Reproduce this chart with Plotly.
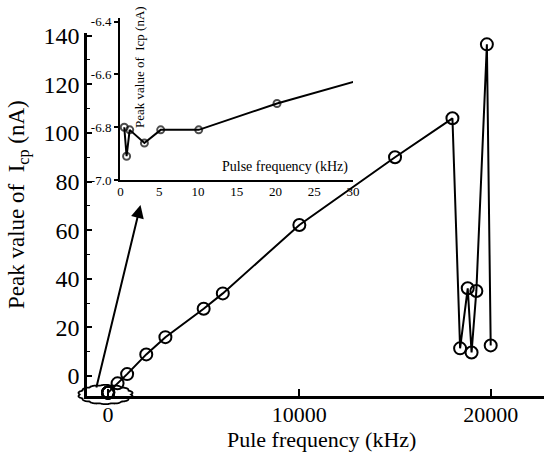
import numpy as np
import plotly.graph_objects as go

# ---- data ----
low_freq = [0.5, 0.8, 1.2, 3.1, 5.2, 10.1, 20.2, 30.4]          # kHz (inset)
low_peak = [-6.80, -6.91, -6.81, -6.86, -6.81, -6.81, -6.71, -6.625]  # nA
low_marker = [True, True, True, True, True, True, True, False]

high_freq = [500, 1000, 2000, 3000, 5000, 6000, 10000, 15000, 18000,
             18400, 18800, 19000, 19250, 19800, 20000]
high_peak = [-3.0, 0.8, 8.9, 16.0, 27.7, 34.0, 62.1, 90.0, 106.0,
             11.4, 36.1, 9.7, 35.0, 136.4, 12.6]

main_yticks = [0, 20, 40, 60, 80, 100, 120, 140]
main_xticks = [0, 10000, 20000]
inset_yticks = [-7.0, -6.8, -6.6, -6.4]
inset_yticklabels = ["-7.0", "-6.8", "-6.6", "-6.4"]
inset_xticks = [0, 5, 10, 15, 20, 25, 30]

FONT = "Liberation Serif"
W, H = 544, 455
L, R, T, B = 87, 0, 18, 59
pw, ph = W - L - R, H - T - B


def px_to_paper(x, y):
    return (x - L) / pw, (H - B - y) / ph


fig = go.Figure()

# main series
fig.add_trace(go.Scatter(
    x=low_freq[:-1] + high_freq, y=low_peak[:-1] + high_peak,
    mode="lines+markers",
    line=dict(color="black", width=2),
    marker=dict(symbol="circle-open", size=12, color="black", line=dict(width=2)),
    xaxis="x", yaxis="y", showlegend=False, cliponaxis=False,
))

# inset series
fig.add_trace(go.Scatter(
    x=low_freq, y=low_peak,
    mode="lines+markers",
    line=dict(color="black", width=2),
    marker=dict(symbol="circle-open", color="black",
                size=[7 if m else 0 for m in low_marker], line=dict(width=2)),
    xaxis="x2", yaxis="y2", showlegend=False,
))

main_top = px_to_paper(0, 32.7)[1]
ix0, iy1 = px_to_paper(120, 18)
ix1, iy0 = px_to_paper(353, 180)

fig.update_layout(
    width=W, height=H,
    margin=dict(l=L, r=R, t=T, b=B, autoexpand=False),
    paper_bgcolor="white", plot_bgcolor="rgba(0,0,0,0)",
    font=dict(family=FONT, color="black"),
    xaxis=dict(domain=[0, 1], range=[-1097, 22785], tickvals=main_xticks,
               ticktext=[str(v) for v in main_xticks],
               showline=True, linecolor="black", linewidth=2.5,
               ticks="inside", ticklen=7, tickwidth=1.5, tickcolor="black",
               ticklabelstandoff=-3,
               showgrid=False, zeroline=False,
               tickfont=dict(size=22, family=FONT, color="black")),
    yaxis=dict(domain=[0, main_top], range=[-8.2, 141.2], tickvals=main_yticks,
               showline=True, linecolor="black", linewidth=2.5,
               ticks="inside", ticklen=5, tickwidth=1.5, tickcolor="black",
               minor=dict(dtick=10, ticks="inside", ticklen=3, tickcolor="black", tickwidth=1),
               showgrid=False, zeroline=False,
               tickfont=dict(size=24, family=FONT, color="black")),
    xaxis2=dict(domain=[ix0, ix1], anchor="y2", range=[-0.05, 30.0],
                tickvals=inset_xticks, showline=True, linecolor="black", linewidth=2,
                ticks="", ticklabelstandoff=-2, showgrid=False, zeroline=False,
                tickfont=dict(size=13, family=FONT, color="black")),
    yaxis2=dict(domain=[iy0, iy1], anchor="x2", range=[-7.0, -6.386],
                tickvals=inset_yticks, ticktext=inset_yticklabels,
                showline=True, linecolor="black", linewidth=2,
                ticks="outside", ticklen=4, tickwidth=1.5, tickcolor="black",
                showgrid=False, zeroline=False,
                tickfont=dict(size=13, family=FONT, color="black")),
)

# titles as annotations
ann = []
x, y = px_to_paper(19, 205)
ann.append(dict(text="Peak value of  I<sub>cp</sub> (nA)", x=x, y=y, xref="paper", yref="paper",
                textangle=-90, showarrow=False, font=dict(size=23, family=FONT, color="black"),
                xanchor="center", yanchor="middle"))
x, y = px_to_paper(321, 439)
ann.append(dict(text="Pule frequency (kHz)", x=x, y=y, xref="paper", yref="paper",
                showarrow=False, font=dict(size=22, family=FONT, color="black"),
                xanchor="center", yanchor="middle"))
x, y = px_to_paper(139, 67)
ann.append(dict(text="Peak value of  Icp (nA)", x=x, y=y, xref="paper", yref="paper",
                textangle=-90, showarrow=False, font=dict(size=13, family=FONT, color="black"),
                xanchor="center", yanchor="middle"))
x, y = px_to_paper(285, 167)
ann.append(dict(text="Pulse frequency (kHz)", x=x, y=y, xref="paper", yref="paper",
                showarrow=False, font=dict(size=14, family=FONT, color="black"),
                xanchor="center", yanchor="middle"))
# arrow from the circled region to the inset
hx, hy = px_to_paper(140.5, 205)
ann.append(dict(text="", x=hx, y=hy, xref="paper", yref="paper",
                ax=96 - 140.5, ay=389 - 205, axref="pixel", ayref="pixel",
                showarrow=True, arrowhead=2, arrowsize=1.3, arrowwidth=2, arrowcolor="black"))
fig.update_layout(annotations=ann)

# cloud-like outline around the origin cluster
cx, cy, rx, ry = 105.5, 394.5, 25.5, 9.0
t = np.linspace(0, 2 * np.pi, 240)
bump = 1 + 0.08 * np.abs(np.sin(7 * t))
pts = [px_to_paper(cx + rx * bump[i] * np.cos(t[i]), cy + ry * bump[i] * np.sin(t[i]))
       for i in range(len(t))]
path = "M " + " L ".join(f"{p[0]:.5f},{p[1]:.5f}" for p in pts) + " Z"
fig.add_shape(type="path", path=path, xref="paper", yref="paper",
              line=dict(color="black", width=1.8))

fig.write_html("out.html", config={"displayModeBar": False},
               post_script="document.body.style.margin='0';document.body.style.padding='0';")
